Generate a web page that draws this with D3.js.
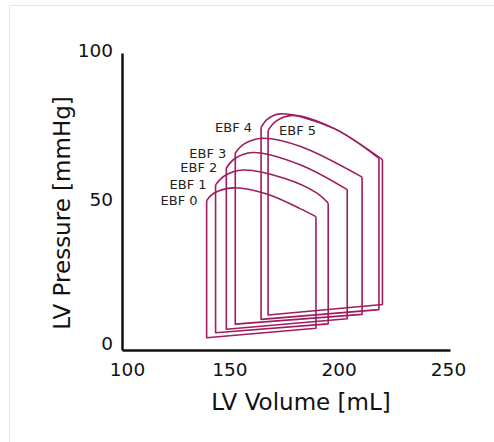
<!DOCTYPE html>
<html>
<head>
<meta charset="utf-8">
<script src="https://cdn.jsdelivr.net/npm/d3@7"></script>
<style>
  body { margin: 0; background: #fff; }
  svg { display: block; font-family: "DejaVu Sans", Verdana, sans-serif; }
</style>
</head>
<body>
<div id="chart"></div>
<script>
// loop names
var loopNames = ["EBF 0", "EBF 1", "EBF 2", "EBF 3", "EBF 4", "EBF 5"];

// left / right volume of each loop [mL]
var volMin = [138.7, 142.8, 147.7, 151.8, 163.6, 166.8];
var volMax = [188.7, 194.3, 203.0, 209.8, 217.5, 219.1];

// pressures at the bottom corners [mmHg]
var pBottomLeft = [4.1, 5.8, 7.0, 8.7, 10.3, 11.8];
var pBottomRight = [7.3, 8.8, 10.5, 12.0, 13.6, 15.3];

// ejection (top) curve of each loop, [volume, pressure] from left to right
var topCurves = [
    [[138.7, 50.3], [141.8, 52.7], [150.9, 54.6], [166.2, 52.5], [181.4, 47.6], [188.7, 44.9]],
    [[142.8, 55.6], [146.8, 58.6], [155.5, 60.6], [173.8, 57.9], [189.0, 52.9], [194.3, 49.4]],
    [[147.7, 61.3], [151.5, 64.4], [159.7, 66.5], [181.4, 62.4], [203.0, 54.0]],
    [[151.8, 66.3], [155.7, 69.3], [164.3, 71.3], [181.4, 68.6], [209.8, 58.2]],
    [[163.6, 74.9], [166.3, 77.6], [172.3, 79.5], [196.6, 74.7], [217.5, 64.5]],
    [[166.8, 73.9], [170.3, 77.0], [178.3, 79.0], [196.6, 74.7], [219.1, 64.1]]
];

var xTicks = [100, 150, 200, 250];
var yTicks = [0, 50, 100];

var width = 494, height = 442;
var loopColor = "#a01c5e";

var svg = d3.select("#chart").append("svg")
    .attr("width", width)
    .attr("height", height);

// light frame
svg.append("rect")
    .attr("x", 9.5)
    .attr("y", 5.5)
    .attr("width", width + 10)
    .attr("height", height + 10)
    .attr("fill", "#fff")
    .attr("stroke", "#e3e3e3")
    .attr("stroke-width", 1);

var x = d3.scaleLinear().domain([100, 250]).range([122, 450]);
var y = d3.scaleLinear().domain([0, 100]).range([350, 53]);

// axes
var xAxis = svg.append("g")
    .attr("transform", "translate(0," + y(0) + ")")
    .call(d3.axisBottom(x).tickValues(xTicks).tickSize(0).tickPadding(13).tickFormat(d3.format("d")));
xAxis.selectAll("text")
    .attr("dx", function(d, i) { return i === 0 ? 5 : -2; });

var yAxis = svg.append("g")
    .attr("transform", "translate(" + x(100) + ",0)")
    .call(d3.axisLeft(y).tickValues(yTicks).tickSize(0).tickPadding(9).tickFormat(d3.format("d")));
yAxis.selectAll("text")
    .attr("dy", function(d) { return d === 0 ? "-0.05em" : "0.2em"; });

svg.selectAll(".domain")
    .attr("stroke", "#111")
    .attr("stroke-width", 2.5);
svg.selectAll(".tick text")
    .attr("font-size", 18.5)
    .attr("font-family", "DejaVu Sans, Verdana, sans-serif")
    .attr("fill", "#111");

// axis titles
svg.append("text")
    .attr("x", 301)
    .attr("y", 410)
    .attr("text-anchor", "middle")
    .attr("font-size", 23)
    .attr("fill", "#111")
    .text("LV Volume [mL]");

svg.append("text")
    .attr("transform", "translate(70,213) rotate(-90)")
    .attr("text-anchor", "middle")
    .attr("font-size", 23)
    .attr("fill", "#111")
    .text("LV Pressure [mmHg]");

// loops
var edge = d3.line()
    .x(function(d) { return x(d[0]); })
    .y(function(d) { return y(d[1]); });

var arc = d3.line()
    .x(function(d) { return x(d[0]); })
    .y(function(d) { return y(d[1]); })
    .curve(d3.curveCatmullRom.alpha(0.5));

var loops = svg.append("g")
    .attr("fill", "none")
    .attr("stroke", loopColor)
    .attr("stroke-width", 1.6)
    .attr("stroke-linejoin", "round");

topCurves.forEach(function(curve, i) {
    var first = curve[0], last = curve[curve.length - 1];
    // left wall, bottom, right wall
    loops.append("path")
        .attr("d", edge([
            [volMin[i], first[1]],
            [volMin[i], pBottomLeft[i]],
            [volMax[i], pBottomRight[i]],
            [volMax[i], last[1]]
        ]));
    // ejection curve
    loops.append("path")
        .attr("d", arc(curve));
});

// labels next to the top-left corner of each loop
svg.append("g").selectAll("text")
    .data(loopNames)
    .enter().append("text")
    .attr("x", function(d, i) {
        var px = x(topCurves[i][0][0]);
        return i === loopNames.length - 1 ? px + 11 : px - 9;
    })
    .attr("y", function(d, i) { return y(topCurves[i][0][1]); })
    .attr("dy", "0.35em")
    .attr("text-anchor", function(d, i) { return i === loopNames.length - 1 ? "start" : "end"; })
    .attr("font-size", 13)
    .attr("fill", "#222")
    .text(function(d) { return d; });
</script>
</body>
</html>
